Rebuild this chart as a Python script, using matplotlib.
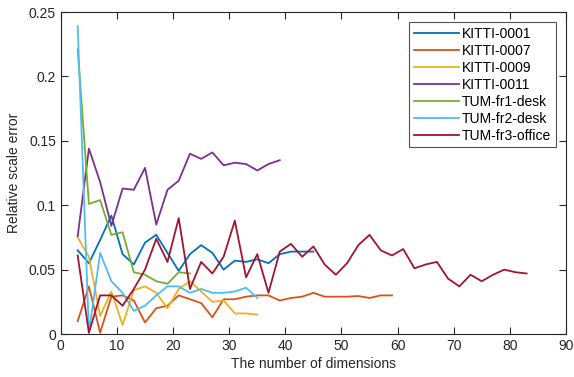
import numpy as np
import matplotlib.pyplot as plt

plt.rcParams['font.family'] = ['Liberation Sans', 'DejaVu Sans']

# Werte
x_0001 = list(range(3, 46, 2))
y_0001 = [0.065, 0.055, 0.073, 0.092, 0.062, 0.054, 0.071, 0.077, 0.063, 0.049,
          0.062, 0.069, 0.063, 0.050, 0.057, 0.056, 0.058, 0.055, 0.062, 0.064,
          0.064, 0.064]

x_0007 = list(range(3, 60, 2))
y_0007 = [0.010, 0.037, 0.001, 0.029, 0.030, 0.026, 0.009, 0.020, 0.022, 0.030,
          0.027, 0.024, 0.013, 0.027, 0.027, 0.029, 0.030, 0.030, 0.026, 0.028,
          0.029, 0.032, 0.029, 0.029, 0.029, 0.0295, 0.028, 0.030, 0.030]

x_0009 = list(range(3, 36, 2))
y_0009 = [0.075, 0.060, 0.014, 0.033, 0.007, 0.034, 0.037, 0.032, 0.020, 0.035,
          0.041, 0.033, 0.025, 0.026, 0.016, 0.016, 0.015]

x_0011 = list(range(3, 40, 2))
y_0011 = [0.076, 0.144, 0.118, 0.084, 0.113, 0.112, 0.129, 0.085, 0.112, 0.119,
          0.140, 0.136, 0.141, 0.131, 0.133, 0.132, 0.127, 0.132, 0.135]

x_fr1 = list(range(3, 24, 2))
y_fr1 = [0.221, 0.101, 0.104, 0.077, 0.079, 0.048, 0.046, 0.041, 0.039, 0.048,
         0.047]

x_fr2 = list(range(3, 36, 2))
y_fr2 = [0.239, 0.001, 0.063, 0.041, 0.032, 0.018, 0.022, 0.030, 0.037, 0.037,
         0.032, 0.035, 0.032, 0.032, 0.033, 0.036, 0.028]

x_fr3 = list(range(3, 84, 2))
y_fr3 = [0.061, 0.001, 0.030, 0.030, 0.022, 0.035, 0.050, 0.074, 0.056, 0.090,
         0.035, 0.056, 0.047, 0.060, 0.088, 0.044, 0.062, 0.032, 0.064, 0.070,
         0.060, 0.068, 0.054, 0.046, 0.055, 0.069, 0.077, 0.065, 0.061, 0.066,
         0.051, 0.054, 0.056, 0.043, 0.037, 0.046, 0.041, 0.046, 0.050, 0.048,
         0.047]

series = [
    ('KITTI-0001', x_0001, y_0001, '#0072BD'),
    ('KITTI-0007', x_0007, y_0007, '#D95319'),
    ('KITTI-0009', x_0009, y_0009, '#EDB120'),
    ('KITTI-0011', x_0011, y_0011, '#7E2F8E'),
    ('TUM-fr1-desk', x_fr1, y_fr1, '#77AC30'),
    ('TUM-fr2-desk', x_fr2, y_fr2, '#4DBEEE'),
    ('TUM-fr3-office', x_fr3, y_fr3, '#A2142F'),
]

xticks = [0, 10, 20, 30, 40, 50, 60, 70, 80, 90]
yticks = [0, 0.05, 0.1, 0.15, 0.2, 0.25]
ytick_labels = ['0', '0.05', '0.1', '0.15', '0.2', '0.25']

fig = plt.figure(figsize=(5.74, 3.77), dpi=100)
ax = fig.add_axes([0.106, 0.114, 0.880, 0.854])

for name, xs, ys, col in series:
    ax.plot(xs, ys, color=col, lw=1.3, label=name)

ax.set_xlim(0, 90)
ax.set_ylim(0, 0.25)
ax.set_xticks(xticks)
ax.set_yticks(yticks)
ax.set_yticklabels(ytick_labels)
ax.tick_params(direction='in', top=True, right=True, labelsize=10,
               colors='#262626', length=5, width=0.8)
for sp in ax.spines.values():
    sp.set_color('#262626')
    sp.set_linewidth(0.8)

ax.set_xlabel('The number of dimensions', fontsize=10, color='#262626', labelpad=3)
ax.set_ylabel('Relative scale error', fontsize=10, color='#262626', labelpad=6)

leg = ax.legend(loc='upper right', fontsize=10, frameon=True, fancybox=False,
                borderpad=0.3, labelspacing=0.22, handlelength=3.3,
                handletextpad=0.2, borderaxespad=0.75)
leg.get_frame().set_edgecolor('#262626')
leg.get_frame().set_linewidth(0.8)

fig.savefig('out.png', dpi=100)
